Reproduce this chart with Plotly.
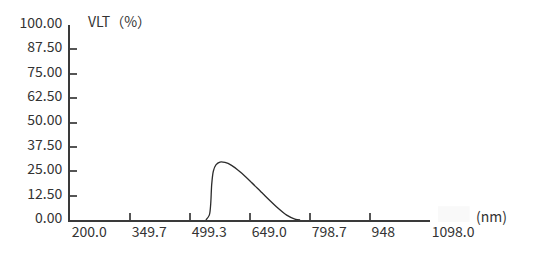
import plotly.graph_objects as go

# Data
wavelength_nm = [539, 547.5, 551, 553.5, 557.5, 564, 574, 586.6, 603, 624, 649, 682, 715.5, 740.5, 761, 774]
vlt_percent = [0, 2.5, 8.3, 18.3, 25, 28.3, 29.7, 29.5, 28, 24.7, 20, 13.3, 6.7, 2.5, 0.5, 0]

x_tick_vals = [200.0, 349.7, 499.3, 649.0, 798.7, 948.0, 1098.0]
x_tick_text = ["200.0", "349.7", "499.3", "649.0", "798.7", "948", "1098.0"]
y_tick_vals = [0, 12.5, 25, 37.5, 50, 62.5, 75, 87.5, 100]
y_tick_text = ["0.00", "12.50", "25.00", "37.50", "50.00", "62.50", "75.00", "87.50", "100.00"]

FONT = "Noto Sans CJK SC"
TEXT = "#333333"
FS = 14

fig = go.Figure()
fig.add_trace(go.Scatter(
    x=wavelength_nm, y=vlt_percent, mode="lines",
    line=dict(color="#2b2b2b", width=1.3, shape="spline", smoothing=0.8),
    hoverinfo="skip", showlegend=False,
))

fig.update_layout(
    width=539, height=257,
    margin=dict(l=70, r=109, t=20, b=37),
    paper_bgcolor="white", plot_bgcolor="white",
    font=dict(family=FONT, size=FS, color=TEXT),
    showlegend=False,
)
fig.update_xaxes(
    range=[200, 1098], tickmode="array", tickvals=x_tick_vals, ticktext=x_tick_text,
    showgrid=False, zeroline=False,
    showline=True, linecolor="#3a3a3a", linewidth=2,
    ticks="inside", ticklen=7, tickwidth=1.5, tickcolor="#555555",
    ticklabelposition="outside right", ticklabelstandoff=-2,
    tickfont=dict(family=FONT, size=FS, color=TEXT),
)
fig.update_yaxes(
    range=[0, 100], tickmode="array", tickvals=y_tick_vals, ticktext=y_tick_text,
    showgrid=False, zeroline=False,
    showline=True, linecolor="#3a3a3a", linewidth=2,
    ticks="inside", ticklen=7, tickwidth=1.5, tickcolor="#555555",
    ticklabelstandoff=3, ticklabelshift=-2,
    tickfont=dict(family=FONT, size=FS, color=TEXT),
)

fig.add_annotation(
    text="VLT（%）", xref="paper", yref="paper", x=0.045, y=1.02,
    xanchor="left", yanchor="middle", showarrow=False,
    font=dict(family=FONT, size=FS, color=TEXT),
)
fig.add_annotation(
    text="(nm)", xref="paper", yref="paper", x=1.122, y=0.02,
    xanchor="left", yanchor="middle", showarrow=False,
    font=dict(family=FONT, size=FS, color=TEXT),
)
fig.add_shape(
    type="rect", xref="paper", yref="paper",
    x0=1.022, x1=1.11, y0=-0.01, y1=0.07,
    fillcolor="#f9f9f9", line=dict(width=0), layer="below",
)

fig.write_html("out.html")
